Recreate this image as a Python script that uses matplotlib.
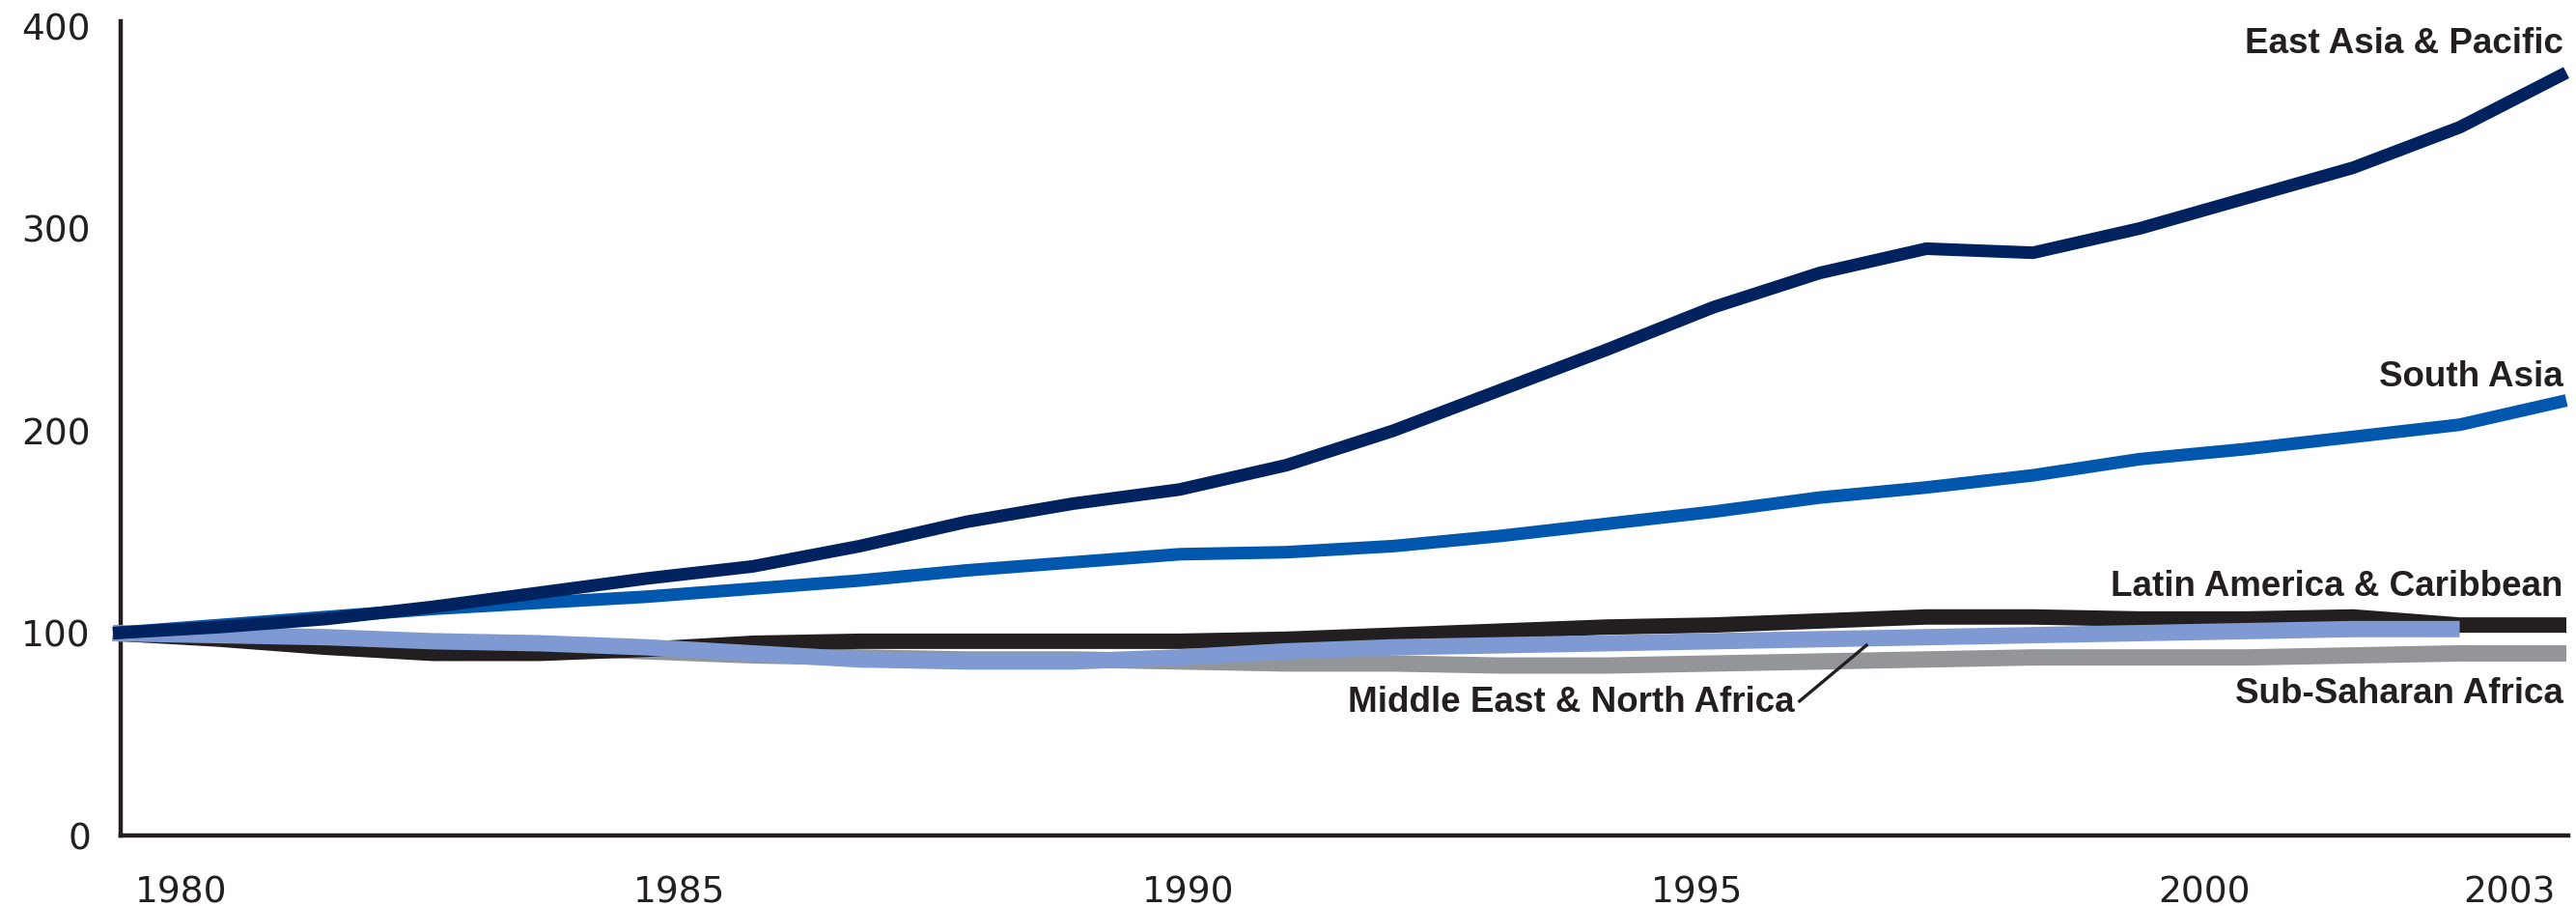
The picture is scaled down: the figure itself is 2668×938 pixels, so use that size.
import matplotlib
matplotlib.use("Agg")
import matplotlib.pyplot as plt

years = list(range(1980, 2004))
years_mena = list(range(1980, 2003))

east_asia = [100, 103, 107, 113, 120, 127, 133, 143, 155, 164, 171, 183,
             200, 220, 240, 261, 278, 290, 288, 300, 315, 330, 350, 377]
south_asia = [100, 104, 108, 112, 115, 118, 122, 126, 131, 135, 139, 140,
              143, 148, 154, 160, 167, 172, 178, 186, 191, 197, 203, 215]
latin_america = [100, 97, 93, 90, 90, 92, 95, 96, 96, 96, 96, 97,
                 99, 101, 103, 104, 106, 108, 108, 107, 107, 108, 104, 104]
mena = [100, 99, 98, 96, 95, 93, 90, 87, 86, 86, 88, 91,
        93, 94, 95, 96, 97, 98, 99, 100, 101, 102, 102]
ssa = [100, 98, 96, 94, 93, 91, 89, 88, 87, 87, 86, 85,
       85, 84, 84, 85, 86, 87, 88, 88, 88, 89, 90, 90]

yticks = [0, 100, 200, 300, 400]
xtick_years = [1980, 1985, 1990, 1995, 2000, 2003]
xtick_labels = ["1980", "1985", "1990", "1995", "2000", "2003"]

label_names = ["East Asia & Pacific", "South Asia", "Latin America & Caribbean",
               "Sub-Saharan Africa", "Middle East & North Africa"]

C_EAP = "#00235F"
C_SA = "#0057AE"
C_LAC = "#231F20"
C_MENA = "#7F9AD2"
C_SSA = "#939598"
C_AX = "#231F20"

fig = plt.figure(figsize=(26.68, 9.38), dpi=100)
ax = fig.add_axes([124.5 / 2668, 73 / 938, (2660 - 124.5) / 2668, 843 / 938])

ax.set_xlim(1980.068, 2003.018)
ax.set_ylim(0, 402.4)

kw = dict(solid_capstyle="butt", solid_joinstyle="round", clip_on=False)
ax.plot(years, ssa, color=C_SSA, lw=12.2, zorder=2, **kw)
ax.plot(years, latin_america, color=C_LAC, lw=11.5, zorder=3, **kw)
ax.plot(years_mena, mena, color=C_MENA, lw=12.2, zorder=4, **kw)
ax.plot(years, south_asia, color=C_SA, lw=9.4, zorder=5, **kw)
ax.plot(years, east_asia, color=C_EAP, lw=9.4, zorder=6, **kw)

for s in ["top", "right"]:
    ax.spines[s].set_visible(False)
for s in ["left", "bottom"]:
    ax.spines[s].set_color(C_AX)
    ax.spines[s].set_linewidth(3.2)
    ax.spines[s].set_zorder(1)

ax.set_yticks(yticks)
ax.set_yticklabels([str(v) for v in yticks])
ax.tick_params(axis="y", length=0, pad=22, labelsize=27, labelcolor=C_AX)
ax.set_xticks([])
for lab in ax.get_yticklabels():
    lab.set_fontfamily("DejaVu Sans")

x_dx = [71, 34, 9, -17, -44, -59]
for yr, txt, dx in zip(xtick_years, xtick_labels, x_dx):
    ax.annotate(txt, xy=(yr, 0), xycoords="data", xytext=(dx, -69),
                textcoords="offset pixels", ha="center", va="baseline",
                fontsize=27, color=C_AX, family="DejaVu Sans",
                annotation_clip=False)

lab_font = dict(fontsize=26.5, fontweight="bold", color=C_AX,
                family=["Liberation Sans", "DejaVu Sans"])
ax.text(2002.97, 386.6, label_names[0], ha="right", va="baseline", **lab_font)
ax.text(2002.97, 222, label_names[1], ha="right", va="baseline", **lab_font)
ax.text(2002.97, 118.4, label_names[2], ha="right", va="baseline", **lab_font)
ax.text(2002.97, 65.4, label_names[3], ha="right", va="baseline", **lab_font)
ax.text(1995.76, 61.1, label_names[4], ha="right", va="baseline", **lab_font)
ax.plot([1995.8, 1996.45], [65.9, 94.5], color=C_AX, lw=2.4,
        solid_capstyle="butt", zorder=7)

fig.savefig("out.png", dpi=100, facecolor="white")
